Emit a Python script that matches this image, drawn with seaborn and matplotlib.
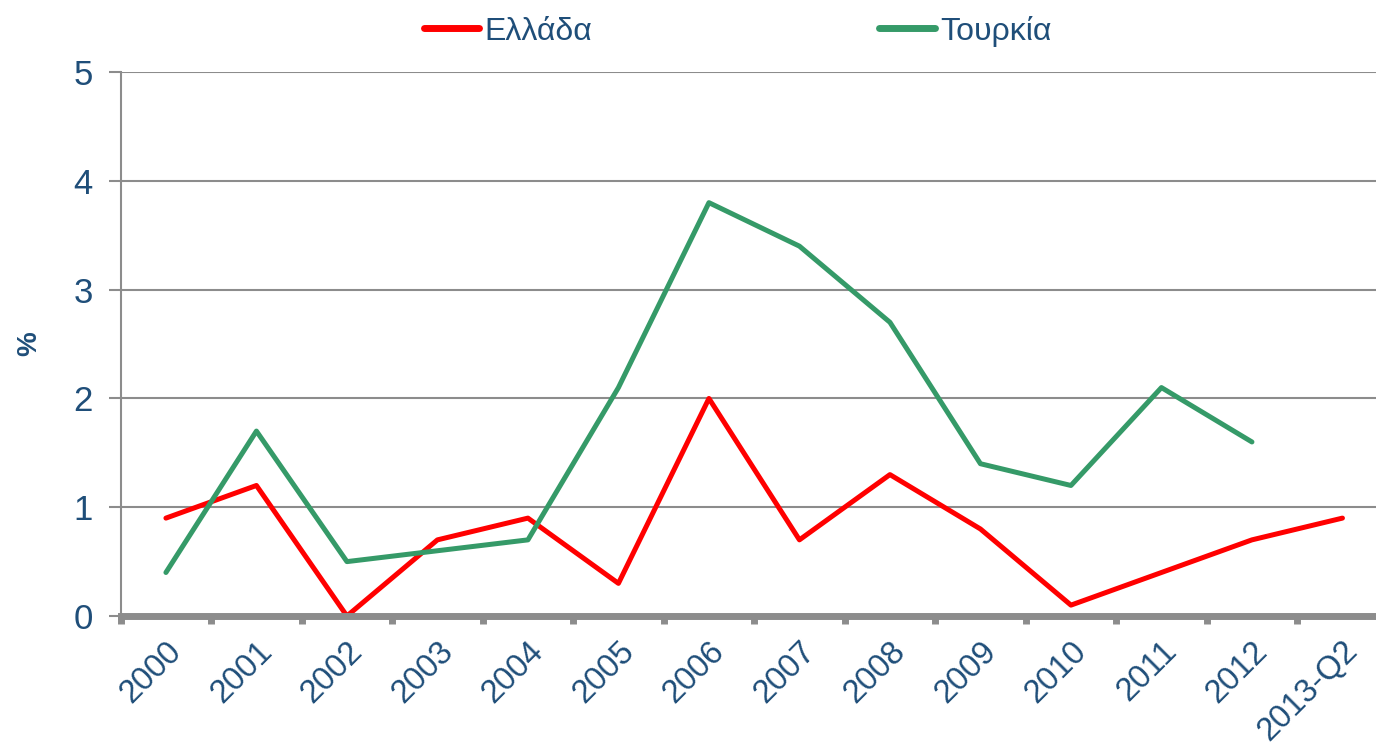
import numpy as np
import pandas as pd
import seaborn as sns
import matplotlib.pyplot as plt
import matplotlib.transforms as mtransforms
from matplotlib.ticker import FixedLocator

years = ['2000', '2001', '2002', '2003', '2004', '2005', '2006', '2007',
         '2008', '2009', '2010', '2011', '2012', '2013-Q2']
greece = [0.9, 1.2, 0.0, 0.7, 0.9, 0.3, 2.0, 0.7, 1.3, 0.8, 0.1, 0.4, 0.7, 0.9]
turkey = [0.4, 1.7, 0.5, 0.6, 0.7, 2.1, 3.8, 3.4, 2.7, 1.4, 1.2, 2.1, 1.6, np.nan]

df = pd.DataFrame({
    'pos': list(range(len(years))) * 2,
    'value': greece + turkey,
    'country': ['Ελλάδα'] * len(years) + ['Τουρκία'] * len(years),
})

sns.set_style('white')
plt.rcParams['font.family'] = ['Liberation Sans', 'DejaVu Sans']
txt = '#1F4E79'
grey = '#8C8C8C'

fig = plt.figure(figsize=(13.76, 7.42), dpi=100)
ax = fig.add_axes([0.0877, 0.1698, 0.9208, 0.733])

sns.lineplot(data=df, x='pos', y='value', hue='country',
             palette={'Ελλάδα': '#FF0000', 'Τουρκία': '#359A68'},
             linewidth=3.6, ax=ax, legend=True)

ax.set_xlim(-0.5, len(years) - 0.5)
ax.set_ylim(0, 5)
ax.set_yticks([0, 1, 2, 3, 4, 5])
ax.yaxis.grid(True, color=grey, linewidth=1.5)
ax.set_axisbelow(True)

ax.set_xticks(range(len(years)))
ax.set_xticklabels(years, rotation=45, ha='right', rotation_mode='anchor',
                   fontsize=23.5, color=txt)
# shift the rotated labels a little to the left
shift = mtransforms.ScaledTranslation(-10 / 100, 2 / 100, fig.dpi_scale_trans)
for lab in ax.get_xticklabels():
    lab.set_transform(lab.get_transform() + shift)
ax.xaxis.set_minor_locator(FixedLocator(np.arange(-0.5, len(years), 1.0)))
ax.tick_params(axis='x', which='major', length=0, pad=14)
ax.tick_params(axis='x', which='minor', length=6, width=5, color=grey,
               direction='out', bottom=True)
ax.tick_params(axis='y', length=9, width=1.5, color=grey, left=True,
               labelsize=25, labelcolor=txt, pad=11)

for s in ['top', 'right']:
    ax.spines[s].set_visible(False)
ax.spines['left'].set_color(grey)
ax.spines['left'].set_linewidth(1.5)
ax.spines['bottom'].set_color(grey)
ax.spines['bottom'].set_linewidth(5)

ax.set_xlabel('')
ax.set_ylabel('%', fontsize=20, fontweight='bold', color=txt)
ax.yaxis.set_label_coords(-0.062, 0.5)

handles, labels = ax.get_legend_handles_labels()
for h in handles:
    h.set_linewidth(5)
ax.legend_.remove()
fig.legend(handles, labels, loc='center', bbox_to_anchor=(0.536, 0.958),
           ncol=2, frameon=False, fontsize=23, handlelength=1.75,
           handletextpad=0.15, columnspacing=9.0, labelcolor=txt)

fig.savefig('out.png', dpi=100)
